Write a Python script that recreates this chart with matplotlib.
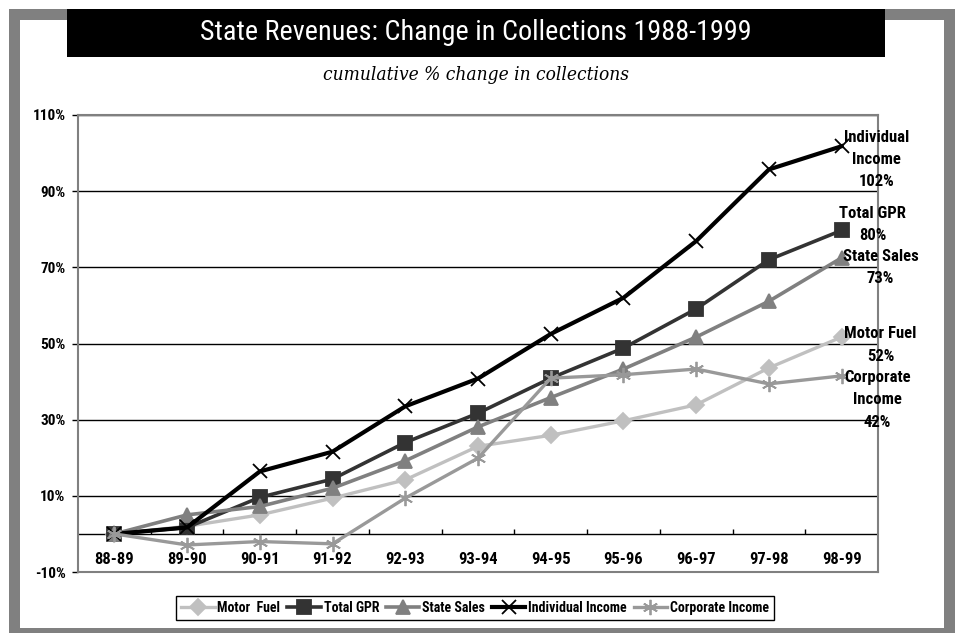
import os
import matplotlib.pyplot as plt
from matplotlib.patches import Rectangle
from matplotlib import font_manager
from matplotlib.font_manager import FontProperties

# Data (cumulative % change in collections)
years = ['88-89', '89-90', '90-91', '91-92', '92-93', '93-94',
         '94-95', '95-96', '96-97', '97-98', '98-99']
motor_fuel = [0, 2.0, 5.0, 9.4, 14.2, 23.0, 25.9, 29.7, 33.9, 43.6, 51.7]
total_gpr = [0, 1.7, 9.6, 14.4, 24.0, 31.7, 40.9, 48.8, 59.1, 72.0, 79.7]
state_sales = [0, 5.0, 7.2, 12.0, 19.2, 28.1, 35.8, 43.3, 51.7, 61.1, 72.5]
individual_income = [0, 1.7, 16.4, 21.6, 33.5, 40.8, 52.5, 62.0, 76.9, 95.7, 101.8]
corporate_income = [0, -2.9, -2.0, -2.6, 9.4, 19.9, 40.9, 41.8, 43.3, 39.4, 41.5]
yticks = [-10, 10, 30, 50, 70, 90, 110]


def pick_font(patterns, family, weight='normal', style='normal'):
    # look for a condensed face by file name, fall back to a plain family
    files = sorted({f.fname for f in font_manager.fontManager.ttflist})
    for p in patterns:
        for fn in files:
            if os.path.basename(fn).lower().startswith(p):
                return FontProperties(fname=fn)
    return FontProperties(family=family, weight=weight, style=style)


bold = pick_font(['robotocondensed-bold.', 'notosans-condensedbold.',
                  'dejavusanscondensed-bold.', 'liberationsansnarrow-bold.',
                  'opensanscondensed-bold.', 'opensans_condensed-bold.'],
                 'Liberation Sans', weight='bold')
regular = pick_font(['robotocondensed-regular.', 'notosans-condensed.',
                     'dejavusanscondensed.', 'liberationsansnarrow-regular.'],
                    'Liberation Sans')
serif_it = pick_font(['notoserif-condenseditalic.', 'notoserif-extracondenseditalic.',
                      'dejavuserifcondensed-italic.', 'liberationserif-italic.'],
                     'Liberation Serif', style='italic')


def fp(base, size):
    p = base.copy()
    p.set_size(size)
    return p


W, H = 958, 633
fig = plt.figure(figsize=(W / 100, H / 100), dpi=100)

# Gray frame, white panel and black title bar
fig.add_artist(Rectangle((9 / W, 0), 946 / W, 624 / H, transform=fig.transFigure,
                         facecolor='#808080', edgecolor='none', zorder=0))
fig.add_artist(Rectangle((20 / W, 5 / H), 924 / W, 608 / H, transform=fig.transFigure,
                         facecolor='white', edgecolor='none', zorder=0))
fig.add_artist(Rectangle((67 / W, 1 - 57 / H), 818 / W, 48 / H, transform=fig.transFigure,
                         facecolor='black', edgecolor='none', zorder=1))
title = fig.text(476 / W, 1 - 33 / H, 'State Revenues: Change in Collections 1988-1999',
                 color='white', fontproperties=fp(regular, 24), ha='center', va='center')
subtitle = fig.text(476 / W, 1 - 75 / H, 'cumulative % change in collections',
                    fontproperties=fp(serif_it, 16), ha='center', va='center')

# fit title widths to the reference
renderer = fig.canvas.get_renderer()
for t, target, cap in [(title, 550, 26), (subtitle, 305, 18)]:
    w = t.get_window_extent(renderer).width
    t.set_fontsize(min(cap, t.get_fontsize() * target / w))

ax = fig.add_axes([78 / W, 1 - 572 / H, 800 / W, 457 / H])
ax.set_zorder(2)
ax.patch.set_alpha(0)

x = range(len(years))
series = [
    ('Motor  Fuel', motor_fuel, '#c0c0c0', 'D', 8, 2.4),
    ('Total GPR', total_gpr, '#333333', 's', 9.5, 2.6),
    ('State Sales', state_sales, '#808080', '^', 9.5, 2.6),
    ('Individual Income', individual_income, 'black', 'x', 10, 3),
    ('Corporate Income', corporate_income, '#999999', (6, 2, 0), 11, 2.4),
]
for label, vals, color, marker, ms, lw in series:
    ax.plot(x, vals, color=color, marker=marker, markersize=ms, linewidth=lw,
            markeredgewidth=1.3, label=label, zorder=3)

ax.set_xlim(-0.5, 10.5)
ax.set_ylim(-10, 110)
ax.set_yticks(yticks)
ax.set_yticklabels([f'{v}%' for v in yticks], fontproperties=fp(bold, 11))
ax.yaxis.grid(True, color='black', linewidth=1)
ax.set_axisbelow(True)
ax.tick_params(axis='y', length=4, width=1, pad=5, color='black')
ax.set_xticks([])
for s in ax.spines.values():
    s.set_color('#808080')
    s.set_linewidth(1.5)

# category axis crossing at zero
ax.axhline(0, color='black', linewidth=1, zorder=1)
ax.vlines([i + 0.5 for i in range(10)], 0, 1.4, color='black', linewidth=1, zorder=1)
for i, lab in enumerate(years):
    ax.text(i, -6.6, lab, ha='center', va='center', fontproperties=fp(bold, 12))

# End labels
ends = [
    ('Individual\nIncome\n102%', individual_income, (35, -13)),
    ('Total GPR\n80%', total_gpr, (31, 6)),
    ('State Sales\n73%', state_sales, (39, -10)),
    ('Motor Fuel\n52%', motor_fuel, (39, -8)),
    ('Corporate\nIncome\n42%', corporate_income, (36, -24)),
]
for txt, vals, off in ends:
    ax.annotate(txt, (10, vals[-1]), xytext=off, textcoords='offset pixels',
                ha='center', va='center', fontproperties=fp(bold, 12), linespacing=1.6,
                annotation_clip=False, zorder=4)

fig.legend(loc='center', bbox_to_anchor=(475 / W, 1 - 608 / H), ncol=5,
           prop=fp(bold, 10), frameon=True, fancybox=False, edgecolor='black',
           framealpha=1, handlelength=2.4, handletextpad=0.2, columnspacing=0.5,
           borderpad=0.35, borderaxespad=0)

plt.savefig('out.png')
